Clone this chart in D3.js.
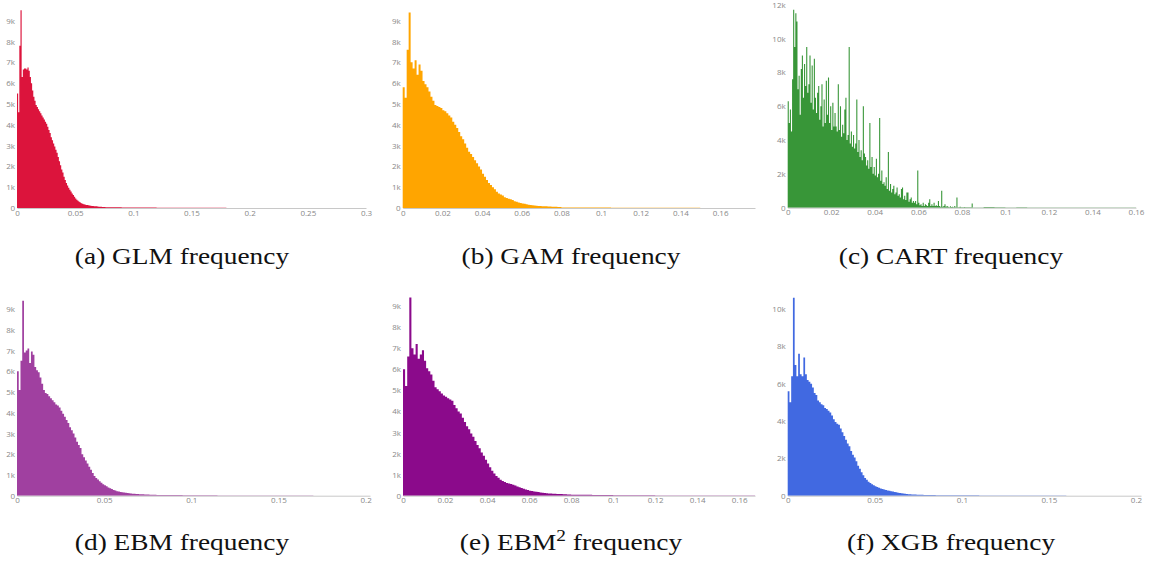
<!DOCTYPE html>
<html>
<head>
<meta charset="utf-8">
<script src="https://cdn.jsdelivr.net/npm/d3@7"></script>
<style>
  body { margin: 0; background: #fff; }
  svg { display: block; }
  .tick text { fill: #888; font-family: "Open Sans", sans-serif; font-size: 8px; }
  .caption { font-family: "Liberation Serif", "Times New Roman", serif; font-size: 24px; fill: #111; }
</style>
</head>
<body>
<svg id="fig" width="1150" height="562"></svg>
<script>
// counts per bin of 0.001, from 0 to 0.08, then coarse tail bins of 0.005
const binWidth = 0.001;
const tailWidth = 0.005;

const glmCounts = [5500, 4600, 7800, 9500, 6300, 6650, 6700, 6700, 6650, 6750,
  6600, 6300, 6000, 5650, 5350, 5150, 4950, 4850, 4750, 4650,
  4550, 4450, 4350, 4250, 4150, 4050, 3900, 3750, 3600, 3400,
  3250, 3100, 2950, 2800, 2650, 2450, 2250, 2050, 1850, 1700,
  1500, 1350, 1200, 1080, 970, 880, 790, 700, 620, 540,
  460, 400, 350, 300, 260, 230, 200, 180, 165, 150,
  140, 130, 120, 110, 100, 95, 90, 85, 80, 70,
  65, 60, 55, 50, 48, 45, 42, 40, 38, 36];
const glmTail = [35, 32, 30, 28, 26, 24, 22, 20, 18, 16, 15, 14, 13, 12, 11, 10, 9, 8, 8, 7,
  6, 6, 5, 5, 4, 4, 3, 3, 2, 2, 2, 1, 1, 1, 1, 1, 1, 1, 1, 1, 1, 1, 1, 1];

const gamCounts = [5800, 5300, 7600, 9400, 7000, 6700, 7100, 6400, 6900, 6600,
  6100, 5950, 5800, 5600, 5350, 5150, 4950, 4900, 4850, 4800,
  4700, 4650, 4550, 4450, 4350, 4150, 4000, 3850, 3650, 3450,
  3300, 3100, 2900, 2700, 2600, 2450, 2300, 2150, 2000, 1850,
  1650, 1500, 1350, 1200, 1100, 1000, 900, 780, 700, 650,
  600, 520, 480, 450, 420, 380, 330, 300, 270, 240,
  220, 200, 180, 160, 140, 130, 120, 110, 100, 95,
  90, 85, 80, 75, 70, 65, 60, 55, 50, 45];
const gamTail = [30, 27, 24, 22, 20, 18, 16, 14, 12, 11, 10, 9, 8, 7, 6, 5, 5, 4, 4, 3];

// CART predictions are discrete leaf values: finer bins of 0.0005
const cartBinWidth = 0.0005;
const cartCounts = [6300, 5000, 5800, 4500, 7600, 11700, 9500, 11500, 11000, 7000,
  7800, 5500, 8200, 9000, 6500, 8500, 7200, 9500, 6800, 7300,
  9000, 6200, 8400, 5800, 8800, 6500, 5600, 6800, 7200, 5200,
  6000, 7300, 4800, 6400, 5000, 7500, 5500, 7700, 5000, 6000,
  4600, 6200, 4800, 5600, 4800, 4500, 7300, 4600, 6000, 4200,
  4900, 4400, 5800, 6500, 4000, 4300, 9500, 3800, 4500, 3600,
  4300, 3500, 3800, 6400, 3300, 4000, 3000, 3400, 2800, 6000,
  3200, 3000, 2500, 2800, 2300, 5000, 2400, 3000, 2000, 2400,
  1900, 2900, 1800, 2000, 5300, 1600, 2200, 1400, 1500, 1300,
  1800, 1100, 3300, 1000, 1400, 900, 1100, 1300, 800, 900,
  1200, 700, 800, 600, 1100, 1200, 500, 700, 450, 900,
  900, 350, 500, 600, 300, 400, 300, 400, 200, 2200,
  300, 150, 200, 100, 300, 100, 200, 150, 100, 300,
  500, 100, 200, 100, 300, 100, 150, 100, 400, 100,
  50, 1000, 50, 100, 200, 50, 100, 50, 30, 80,
  40, 50, 30, 100, 30, 600, 30, 20, 50, 20,
  30, 20, 40, 20, 30, 20, 20, 30, 20, 250];
const cartTail = [15, 40, 20, 15, 30, 15, 10, 15, 8, 10, 8, 8, 5, 8, 5];

const ebmCounts = [6000, 5100, 6500, 9400, 6900, 7000, 7100, 6400, 6950, 6800,
  6200, 6050, 5950, 5700, 5400, 5100, 4950, 4900, 4800, 4700,
  4600, 4500, 4400, 4350, 4250, 4100, 3950, 3800, 3650, 3500,
  3300, 3150, 3000, 2800, 2600, 2450, 2300, 2000, 1850, 1700,
  1550, 1400, 1250, 1100, 950, 850, 780, 700, 620, 550,
  500, 450, 400, 360, 320, 280, 250, 220, 200, 180,
  165, 150, 140, 125, 115, 105, 95, 90, 85, 80,
  75, 70, 65, 60, 57, 54, 50, 47, 44, 41];
const ebmTail = [36, 32, 28, 25, 22, 19, 17, 15, 13, 11, 10, 9, 8, 7, 6, 5, 5, 4, 3, 3, 2, 2, 2, 1, 1];

const ebm2Counts = [6000, 5200, 6600, 9400, 7000, 6700, 7200, 6500, 6700, 6900,
  6400, 6050, 5900, 5750, 5450, 5150, 5050, 4950, 4850, 4750,
  4700, 4620, 4560, 4500, 4300, 4150, 4000, 3900, 3700, 3500,
  3300, 3150, 2950, 2800, 2600, 2400, 2250, 2050, 1900, 1700,
  1530, 1350, 1180, 1050, 940, 850, 760, 700, 650, 600,
  580, 560, 520, 480, 440, 400, 360, 330, 300, 270,
  240, 220, 200, 185, 170, 155, 140, 125, 115, 105,
  100, 95, 90, 85, 80, 75, 70, 65, 60, 55];
const ebm2Tail = [48, 42, 36, 31, 27, 23, 20, 17, 15, 13, 11, 10, 9, 8, 7, 6, 5, 4];

const xgbCounts = [5600, 5000, 6400, 10600, 7000, 6400, 7600, 6500, 6400, 7400,
  6500, 6200, 6100, 6000, 5800, 5500, 5400, 5100, 5000, 4900,
  4850, 4700, 4650, 4550, 4450, 4300, 4100, 3950, 3850, 3800,
  3600, 3400, 3200, 3000, 2800, 2650, 2400, 2200, 2050, 1850,
  1600, 1450, 1250, 1100, 950, 850, 750, 680, 620, 560,
  500, 460, 420, 390, 360, 330, 300, 280, 260, 240,
  220, 200, 180, 160, 140, 125, 115, 100, 90, 80,
  75, 70, 65, 60, 56, 52, 48, 45, 42, 40];
const xgbTail = [34, 30, 26, 23, 20, 18, 16, 14, 12, 10, 9, 8, 7, 6, 5, 5, 4, 3, 3, 2, 2, 2, 1, 1, 1];

const xTicksA = [0, 0.05, 0.1, 0.15, 0.2, 0.25, 0.3];
const xTicksB = [0, 0.02, 0.04, 0.06, 0.08, 0.1, 0.12, 0.14, 0.16];
const xTicksD = [0, 0.05, 0.1, 0.15, 0.2];
const yTicks9k = [0, 1000, 2000, 3000, 4000, 5000, 6000, 7000, 8000, 9000];
const yTicks12k = [0, 2000, 4000, 6000, 8000, 10000, 12000];
const yTicks10k = [0, 2000, 4000, 6000, 8000, 10000];

const letters = ["a", "b", "c", "d", "e", "f"];
const models = ["GLM", "GAM", "CART", "EBM", "EBM2", "XGB"];
const xMaxes = [0.3, 0.1776, 0.16, 0.2025, 0.1675, 0.2029];

const panels = [
  { counts: glmCounts, bin: binWidth, tail: glmTail, color: "#dc143c", opacity: 1,
    xTicks: xTicksA, yTicks: yTicks9k, left: 17, right: 366, base: 208, yRef: 9000, yRefPx: 20.7, cx: 182, capY: 264 },
  { counts: gamCounts, bin: binWidth, tail: gamTail, color: "#ffa500", opacity: 1,
    xTicks: xTicksB, yTicks: yTicks9k, left: 402.7, right: 755, base: 208, yRef: 9000, yRefPx: 20.7, cx: 571, capY: 264 },
  { counts: cartCounts, bin: cartBinWidth, tail: cartTail, color: "#228b22", opacity: 0.9,
    xTicks: xTicksB, yTicks: yTicks12k, left: 787.7, right: 1136, base: 207.7, yRef: 12000, yRefPx: 4.7, cx: 951, capY: 264 },
  { counts: ebmCounts, bin: binWidth, tail: ebmTail, color: "#800080", opacity: 0.75,
    xTicks: xTicksD, yTicks: yTicks9k, left: 17, right: 370, base: 495.7, yRef: 9000, yRefPx: 309, cx: 182, capY: 550 },
  { counts: ebm2Counts, bin: binWidth, tail: ebm2Tail, color: "#8b0a8b", opacity: 1,
    xTicks: xTicksB, yTicks: yTicks9k, left: 403, right: 755, base: 495.7, yRef: 9000, yRefPx: 306, cx: 571, capY: 550 },
  { counts: xgbCounts, bin: binWidth, tail: xgbTail, color: "#4169e1", opacity: 1,
    xTicks: xTicksD, yTicks: yTicks10k, left: 787.7, right: 1141, base: 495.7, yRef: 10000, yRefPx: 309, cx: 951, capY: 550 }
];

const svg = d3.select("#fig");

function drawPanel(p, i) {
  const xMax = xMaxes[i];
  const x = d3.scaleLinear().domain([0, xMax]).range([p.left, p.right]);
  const y = d3.scaleLinear().domain([0, p.yRef]).range([p.base, p.yRefPx]);

  const tailStart = p.counts.length * p.bin;
  const bins = p.counts.map((n, j) => ({ x0: j * p.bin, x1: (j + 1) * p.bin, n: n }))
    .concat(p.tail.map((n, j) => ({
      x0: tailStart + j * tailWidth,
      x1: Math.min(tailStart + (j + 1) * tailWidth, xMax),
      n: n
    })))
    .filter(d => d.x0 < xMax);

  const g = svg.append("g");

  // one step-shaped area per histogram, so neighbouring bars leave no seams
  const area = d3.area()
    .x(d => x(d.x))
    .y0(y(0))
    .y1(d => y(d.n))
    .curve(d3.curveStepAfter);
  const pts = bins.map(d => ({ x: d.x0, n: d.n }));
  const last = bins[bins.length - 1];
  pts.push({ x: last.x1, n: last.n });

  g.append("path")
    .datum(pts)
    .attr("fill", p.color)
    .attr("fill-opacity", p.opacity)
    .attr("d", area);

  const xAxis = g.append("g")
    .attr("transform", "translate(0," + p.base + ")")
    .call(d3.axisBottom(x).tickValues(p.xTicks).tickSize(0).tickPadding(2).tickFormat(d3.format("~g")));
  xAxis.select(".domain").attr("stroke", "#c8c8c8");

  const yAxis = g.append("g")
    .attr("transform", "translate(" + p.left + ",0)")
    .call(d3.axisLeft(y).tickValues(p.yTicks).tickSize(0).tickPadding(2).tickFormat(d3.format("~s")));
  yAxis.select(".domain").remove();

  // caption
  const cap = svg.append("text")
    .attr("class", "caption")
    .attr("x", p.cx)
    .attr("y", p.capY)
    .attr("text-anchor", "middle");
  const model = models[i];
  if (model === "EBM2") {
    cap.append("tspan").text("(" + letters[i] + ") EBM");
    cap.append("tspan").attr("dy", -9).attr("font-size", 17).text("2");
    cap.append("tspan").attr("dy", 9).text(" frequency");
  } else {
    cap.text("(" + letters[i] + ") " + model + " frequency");
  }
  const w = cap.node().getComputedTextLength();
  cap.attr("textLength", w * 1.14).attr("lengthAdjust", "spacingAndGlyphs");
}

panels.forEach(drawPanel);
</script>
</body>
</html>
